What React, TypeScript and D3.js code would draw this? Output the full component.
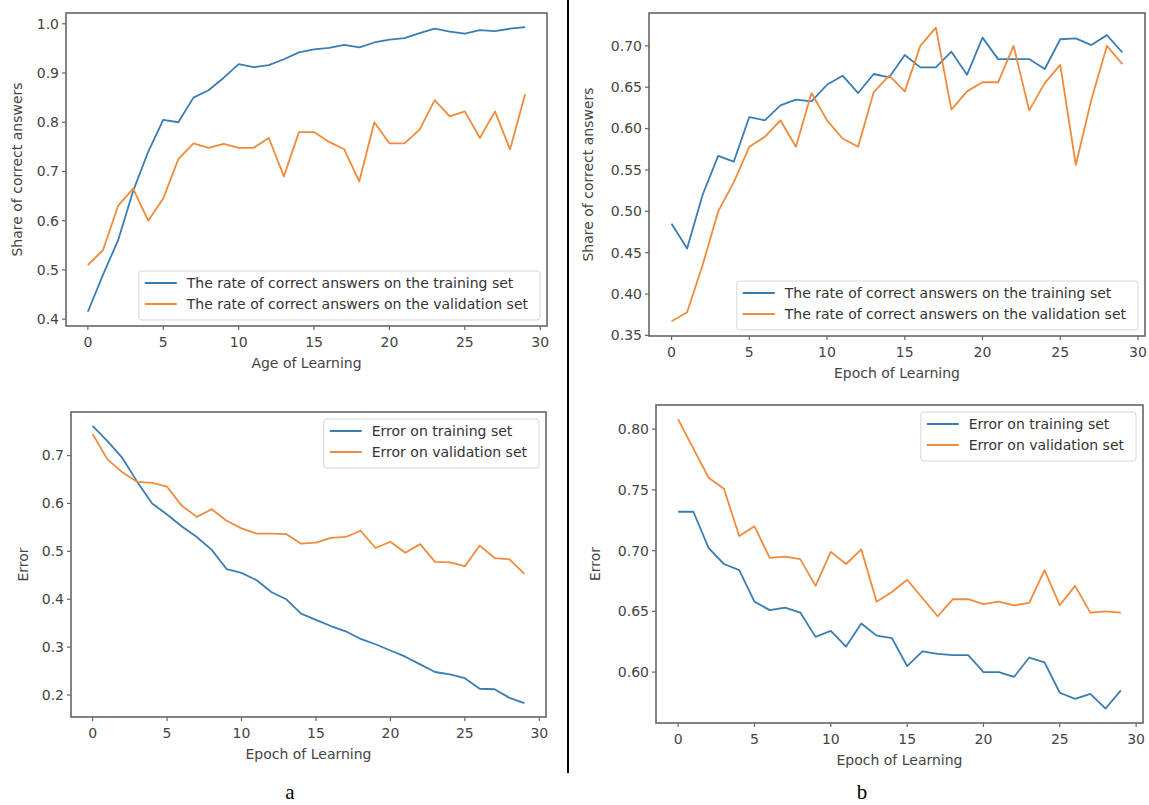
import React from "react";
import * as d3 from "d3";

const epochs = [0,1,2,3,4,5,6,7,8,9,10,11,12,13,14,15,16,17,18,19,20,21,22,23,24,25,26,27,28,29];

const aAccTrain = [0.415,0.49,0.56,0.66,0.74,0.805,0.80,0.85,0.865,0.89,0.918,0.912,0.916,0.928,0.942,0.948,0.951,0.957,0.952,0.962,0.968,0.971,0.981,0.99,0.984,0.980,0.987,0.985,0.990,0.993];
const aAccVal = [0.51,0.54,0.63,0.665,0.60,0.645,0.725,0.757,0.748,0.756,0.748,0.748,0.768,0.69,0.78,0.78,0.76,0.745,0.68,0.80,0.757,0.757,0.785,0.845,0.812,0.822,0.768,0.822,0.745,0.857];
const aErrTrain = [0.762,0.73,0.695,0.645,0.60,0.577,0.552,0.53,0.503,0.463,0.455,0.44,0.415,0.40,0.37,0.357,0.344,0.333,0.317,0.306,0.293,0.28,0.264,0.248,0.243,0.235,0.213,0.212,0.194,0.183];
const aErrVal = [0.745,0.692,0.665,0.645,0.643,0.635,0.595,0.572,0.588,0.564,0.548,0.537,0.537,0.536,0.516,0.518,0.528,0.530,0.543,0.507,0.52,0.497,0.515,0.478,0.477,0.469,0.512,0.486,0.483,0.453];
const bAccTrain = [0.485,0.455,0.52,0.567,0.56,0.614,0.61,0.628,0.635,0.633,0.653,0.664,0.643,0.666,0.662,0.689,0.674,0.674,0.693,0.665,0.71,0.684,0.684,0.684,0.672,0.708,0.709,0.701,0.713,0.692];
const bAccVal = [0.367,0.378,0.435,0.50,0.535,0.578,0.59,0.61,0.578,0.643,0.61,0.588,0.578,0.644,0.664,0.645,0.70,0.722,0.623,0.645,0.656,0.656,0.70,0.622,0.655,0.677,0.556,0.635,0.700,0.678];
const bErrTrain = [0.732,0.732,0.702,0.689,0.684,0.658,0.651,0.653,0.649,0.629,0.634,0.621,0.64,0.63,0.628,0.605,0.617,0.615,0.614,0.614,0.60,0.60,0.596,0.612,0.608,0.583,0.578,0.582,0.570,0.585];
const bErrVal = [0.808,0.784,0.760,0.751,0.712,0.72,0.694,0.695,0.693,0.671,0.699,0.689,0.701,0.658,0.666,0.676,0.661,0.646,0.66,0.66,0.656,0.658,0.655,0.657,0.684,0.655,0.671,0.649,0.650,0.649];

const xTicks = [0,5,10,15,20,25,30];
const aAccTicks = [0.4,0.5,0.6,0.7,0.8,0.9,1.0];
const aErrTicks = [0.2,0.3,0.4,0.5,0.6,0.7];
const bAccTicks = [0.35,0.40,0.45,0.50,0.55,0.60,0.65,0.70];
const bErrTicks = [0.60,0.65,0.70,0.75,0.80];

const accLegend = ["The rate of correct answers on the training set", "The rate of correct answers on the validation set"];
const errLegend = ["Error on training set", "Error on validation set"];

const BLUE = "#3a7db5";
const ORANGE = "#f28a3c";
const FONT = "DejaVu Sans";
const FS = 14;

function measure(text: string, size: number) {
  if (typeof document === "undefined") return text.length * size * 0.57;
  const c = document.createElement("canvas");
  const ctx = c.getContext("2d");
  if (!ctx) return text.length * size * 0.57;
  ctx.font = `${size}px "${FONT}"`;
  return ctx.measureText(text).width;
}

type PanelProps = {
  left: number; right: number; top: number; bottom: number;
  train: number[]; val: number[];
  yTicks: number[]; yFmt: string;
  yLabel: string; xLabel: string;
  legend: string[]; legendPos: "lower" | "upper";
  yLabelOffset: number;
};

function Panel(p: PanelProps) {
  const all = [...p.train, ...p.val];
  const mn = d3.min(all)!;
  const mx = d3.max(all)!;
  const m = (mx - mn) * 0.05;
  const x = d3.scaleLinear().domain([-1.45, 30.45]).range([p.left, p.right]);
  const y = d3.scaleLinear().domain([mn - m, mx + m]).range([p.bottom, p.top]);
  const line = d3.line<number>().x((_, i) => x(epochs[i])).y((d) => y(d));
  const fmt = d3.format(p.yFmt);

  const tw = Math.max(...p.legend.map((t) => measure(t, FS)));
  const boxRight = p.right - 7;
  const boxW = 6 + 32 + 10 + tw + 12;
  const boxLeft = boxRight - boxW;
  const boxH = 49;
  const boxTop = p.legendPos === "upper" ? p.top + 7 : p.bottom - 6 - boxH;
  const rowY = [boxTop + 12, boxTop + 33];

  return (
    <g>
      <path d={line(p.train) || ""} fill="none" stroke={BLUE} strokeWidth={1.8} strokeLinejoin="round" />
      <path d={line(p.val) || ""} fill="none" stroke={ORANGE} strokeWidth={1.8} strokeLinejoin="round" />
      <rect x={p.left} y={p.top} width={p.right - p.left} height={p.bottom - p.top} fill="none" stroke="#666" strokeWidth={1.6} />
      {xTicks.map((t) => (
        <g key={"x" + t}>
          <line x1={x(t)} x2={x(t)} y1={p.bottom} y2={p.bottom + 4} stroke="#666" strokeWidth={1.2} />
          <text x={x(t)} y={p.bottom + 21} textAnchor="middle" fontFamily={FONT} fontSize={FS} fill="#444">{t}</text>
        </g>
      ))}
      {p.yTicks.map((t) => (
        <g key={"y" + t}>
          <line x1={p.left - 4} x2={p.left} y1={y(t)} y2={y(t)} stroke="#666" strokeWidth={1.2} />
          <text x={p.left - 7} y={y(t)} dy="0.35em" textAnchor="end" fontFamily={FONT} fontSize={FS} fill="#444">{fmt(t)}</text>
        </g>
      ))}
      <text x={(p.left + p.right) / 2} y={p.bottom + 42} textAnchor="middle" fontFamily={FONT} fontSize={FS} fill="#444">{p.xLabel}</text>
      <text transform={`translate(${p.left - p.yLabelOffset},${(p.top + p.bottom) / 2}) rotate(-90)`} textAnchor="middle" dominantBaseline="central" fontFamily={FONT} fontSize={FS} fill="#444">{p.yLabel}</text>
      <rect x={boxLeft} y={boxTop} width={boxW} height={boxH} rx={3} fill="#fff" fillOpacity={0.85} stroke="#d6d6d6" strokeWidth={1} />
      {p.legend.map((t, i) => (
        <g key={"l" + i}>
          <line x1={boxLeft + 6} x2={boxLeft + 38} y1={rowY[i]} y2={rowY[i]} stroke={i === 0 ? BLUE : ORANGE} strokeWidth={1.8} />
          <text x={boxLeft + 48} y={rowY[i]} dy="0.35em" fontFamily={FONT} fontSize={FS} fill="#333">{t}</text>
        </g>
      ))}
    </g>
  );
}

export default function App() {
  return (
    <svg width={1149} height={805} style={{ position: "absolute", left: 0, top: 0, background: "#fff" }}>
      <rect x={0} y={0} width={1149} height={805} fill="#fff" />
      <Panel left={66} right={547} top={13} bottom={326} train={aAccTrain} val={aAccVal} yTicks={aAccTicks} yFmt=".1f"
        yLabel="Share of correct answers" xLabel="Age of Learning" legend={accLegend} legendPos="lower" yLabelOffset={49} />
      <Panel left={71} right={546} top={412} bottom={717} train={aErrTrain} val={aErrVal} yTicks={aErrTicks} yFmt=".1f"
        yLabel="Error" xLabel="Epoch of Learning" legend={errLegend} legendPos="upper" yLabelOffset={48} />
      <Panel left={649} right={1145} top={13} bottom={336} train={bAccTrain} val={bAccVal} yTicks={bAccTicks} yFmt=".2f"
        yLabel="Share of correct answers" xLabel="Epoch of Learning" legend={accLegend} legendPos="lower" yLabelOffset={61} />
      <Panel left={656} right={1143} top={405} bottom={723} train={bErrTrain} val={bErrVal} yTicks={bErrTicks} yFmt=".2f"
        yLabel="Error" xLabel="Epoch of Learning" legend={errLegend} legendPos="upper" yLabelOffset={61} />
      <line x1={568} x2={568} y1={0} y2={773} stroke="#000" strokeWidth={2} />
      <text x={290} y={799} textAnchor="middle" fontFamily="Liberation Serif" fontSize={21} fill="#000">a</text>
      <text x={862} y={799} textAnchor="middle" fontFamily="Liberation Serif" fontSize={21} fill="#000">b</text>
    </svg>
  );
}
